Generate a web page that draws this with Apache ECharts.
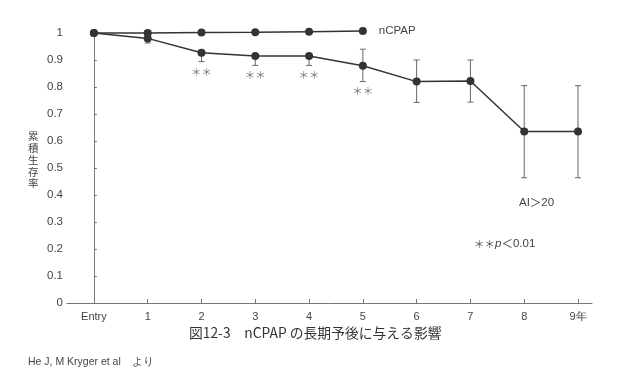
<!DOCTYPE html>
<html>
<head>
<meta charset="utf-8">
<script src="https://cdn.jsdelivr.net/npm/echarts@6/dist/echarts.min.js"></script>
<style>html,body{margin:0;padding:0;background:#fff}#c{width:640px;height:377px}</style>
</head>
<body>
<div id="c"></div>
<script>
const xLabels = ['Entry', '1', '2', '3', '4', '5', '6', '7', '8', '9年'];
const xPos = [0, 1, 2, 3, 4, 5, 6, 7, 8, 9];
const ncpap = [1.0, 1.0, 1.002, 1.003, 1.005, 1.007];
const ai20 = [1.0, 0.98, 0.927, 0.915, 0.915, 0.879, 0.82, 0.822, 0.635, 0.635];
const errLow = [null, 0.963, 0.894, 0.88, 0.88, 0.82, 0.743, 0.744, 0.464, 0.464];
const errHigh = [null, null, null, null, null, 0.94, 0.90, 0.90, 0.805, 0.805];
const starMarks = [[2, 0.856], [3, 0.844], [4, 0.844], [5, 0.785]];
const yName = ['累', '積', '生', '存', '率'];

const FONT = '"Liberation Sans", Arial, sans-serif';
const JFONT = '"Noto Sans CJK JP", sans-serif';
const ink = '#333';

const chart = echarts.init(document.getElementById('c'));
const errData = [];
xPos.forEach((x, i) => { if (errLow[i] != null) errData.push([x, errLow[i], errHigh[i] == null ? ai20[i] : errHigh[i], errHigh[i] == null ? 0 : 1]); });

const nameGraphics = yName.map((ch, i) => ({
  type: 'text', left: 28, top: 131 + i * 11.8,
  style: { text: ch, fill: '#444', fontSize: 10.5, fontFamily: JFONT }
}));

chart.setOption({
  animation: false,
  grid: { left: 67, right: 48, top: 33, bottom: 74 },
  xAxis: {
    type: 'value', min: -0.5, max: 9.26,
    axisLine: { lineStyle: { color: '#777', width: 1 } },
    axisTick: { show: true, inside: true, length: 4, customValues: xPos, lineStyle: { color: '#777' } },
    axisLabel: { customValues: xPos, formatter: v => xLabels[Math.round(v)], color: '#444', fontFamily: FONT, fontSize: 11, margin: 8 },
    splitLine: { show: false }
  },
  yAxis: {
    type: 'value', min: 0, max: 1, interval: 0.1,
    axisLine: { show: true, lineStyle: { color: '#777', width: 1 } },
    axisTick: { show: true, inside: true, length: 3, lineStyle: { color: '#777' } },
    axisLabel: { formatter: v => String(+v.toFixed(1)), color: '#444', fontFamily: FONT, fontSize: 11.5, margin: 4 },
    splitLine: { show: false }
  },
  series: [
    {
      type: 'custom', z: 1, clip: false,
      renderItem: (params, api) => {
        const p1 = api.coord([api.value(0), api.value(1)]);
        const p2 = api.coord([api.value(0), api.value(2)]);
        const hasTop = api.value(3) === 1;
        const w = 3;
        const children = [
          { type: 'line', shape: { x1: p1[0], y1: p1[1], x2: p2[0], y2: p2[1] }, style: { stroke: '#666', lineWidth: 1 } },
          { type: 'line', shape: { x1: p1[0] - w, y1: p1[1], x2: p1[0] + w, y2: p1[1] }, style: { stroke: '#666', lineWidth: 1 } }
        ];
        if (hasTop) children.push({ type: 'line', shape: { x1: p2[0] - w, y1: p2[1], x2: p2[0] + w, y2: p2[1] }, style: { stroke: '#666', lineWidth: 1 } });
        return { type: 'group', children };
      },
      data: errData
    },
    {
      name: 'nCPAP', type: 'line', z: 3, clip: false,
      data: ncpap.map((v, i) => [xPos[i], v]),
      symbol: 'circle', symbolSize: 8,
      itemStyle: { color: ink }, lineStyle: { color: ink, width: 1.5 },
      label: { show: true, formatter: p => p.dataIndex === ncpap.length - 1 ? 'nCPAP' : '', position: 'right', distance: 12, color: '#444', fontFamily: FONT, fontSize: 11.5 }
    },
    {
      name: 'AI>20', type: 'line', z: 3, clip: false,
      data: ai20.map((v, i) => [xPos[i], v]),
      symbol: 'circle', symbolSize: 8,
      itemStyle: { color: ink }, lineStyle: { color: ink, width: 1.5 }
    },
    {
      type: 'scatter', symbolSize: 0, silent: true,
      data: starMarks,
      label: { show: true, position: 'inside', formatter: '＊＊', color: '#555', fontFamily: JFONT, fontSize: 10.5 }
    }
  ],
  graphic: nameGraphics.concat([
    { type: 'text', left: 519, top: 197, style: { text: '{a|AI}{g|＞}{a|20}', rich: {
      a: { fontFamily: FONT, fontSize: 11.5, fill: '#444' },
      g: { fontFamily: JFONT, fontSize: 11.5, fill: '#444' } } } },
    { type: 'text', left: 474, top: 238, style: { text: '{s|＊＊}{p|p}{g|＜}{t|0.01}', rich: {
      s: { fontFamily: JFONT, fontSize: 10.5, fill: '#555' },
      p: { fontFamily: FONT, fontSize: 11.5, fontStyle: 'italic', fill: '#444' },
      g: { fontFamily: JFONT, fontSize: 11.5, fill: '#444' },
      t: { fontFamily: FONT, fontSize: 11.5, fill: '#444' } } } },
    { type: 'text', left: 189, top: 326, style: { text: '図12-3　nCPAP の長期予後に与える影響', fill: '#333', font: '13.8px ' + JFONT } },
    { type: 'text', left: 28, top: 357, style: { text: 'He J, M Kryger et al　より', fill: '#444', font: '10.5px ' + FONT } }
  ])
});
</script>
</body>
</html>
